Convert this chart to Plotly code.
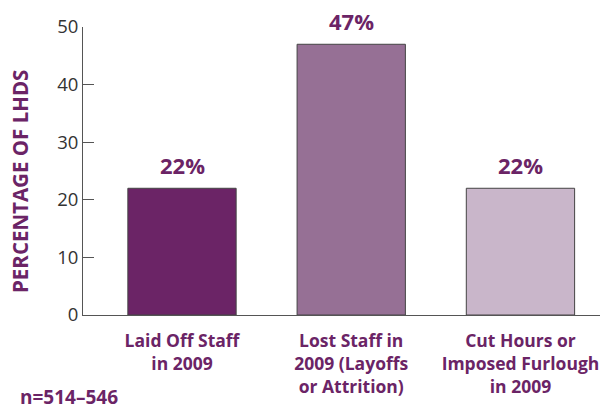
import plotly.graph_objects as go

categories = ["Laid Off Staff<br>in 2009", "Lost Staff in<br>2009 (Layoffs<br>or Attrition)", "Cut Hours or<br>Imposed Furlough<br>in 2009"]
values = [22, 47, 22]
labels = ["22%", "47%", "22%"]
colors = ["#6b2466", "#967095", "#c9b6ca"]
yticks = [0, 10, 20, 30, 40, 50]

purple = "#6b2466"
font_family = "Open Sans"

fig = go.Figure(go.Bar(
    x=[0, 1, 2], y=values, width=0.64,
    marker=dict(color=colors, line=dict(color="#444444", width=1)),
))

for i, (v, t) in enumerate(zip(values, labels)):
    fig.add_annotation(x=i, y=v, text=t, showarrow=False, yanchor="bottom", yshift=6,
                       font=dict(family=font_family, size=22, color=purple, weight="bold"))

fig.update_layout(
    width=610, height=413,
    margin=dict(l=83, r=10, t=27, b=98),
    paper_bgcolor="white", plot_bgcolor="white",
    showlegend=False,
    xaxis=dict(
        range=[-0.585, 2.47], tickvals=[0, 1, 2], ticktext=categories,
        showline=True, linecolor="#555555", linewidth=1, ticks="",
        showgrid=False, zeroline=False, ticklabelstandoff=10,
        tickfont=dict(family=font_family, size=17.5, color=purple, weight="bold"),
    ),
    yaxis=dict(
        range=[0, 50], tickvals=yticks, showline=True, linecolor="#555555", linewidth=1,
        ticks="inside", ticklen=11, tickcolor="#555555",
        showgrid=False, zeroline=False,
        tickfont=dict(family=font_family, size=18.5, color="#333333"),
    ),
)
fig.add_annotation(text="PERCENTAGE OF LHDS", xref="paper", yref="paper", x=-0.122, y=0.465,
                   xanchor="center", textangle=-90, showarrow=False,
                   font=dict(family=font_family, size=20.5, color=purple, weight="bold"))
fig.add_annotation(text="n=514–546", xref="paper", yref="paper", x=-0.125, y=-0.285,
                   xanchor="left", yanchor="middle", showarrow=False,
                   font=dict(family=font_family, size=19, color=purple, weight="bold"))

fig.write_html("out.html")
